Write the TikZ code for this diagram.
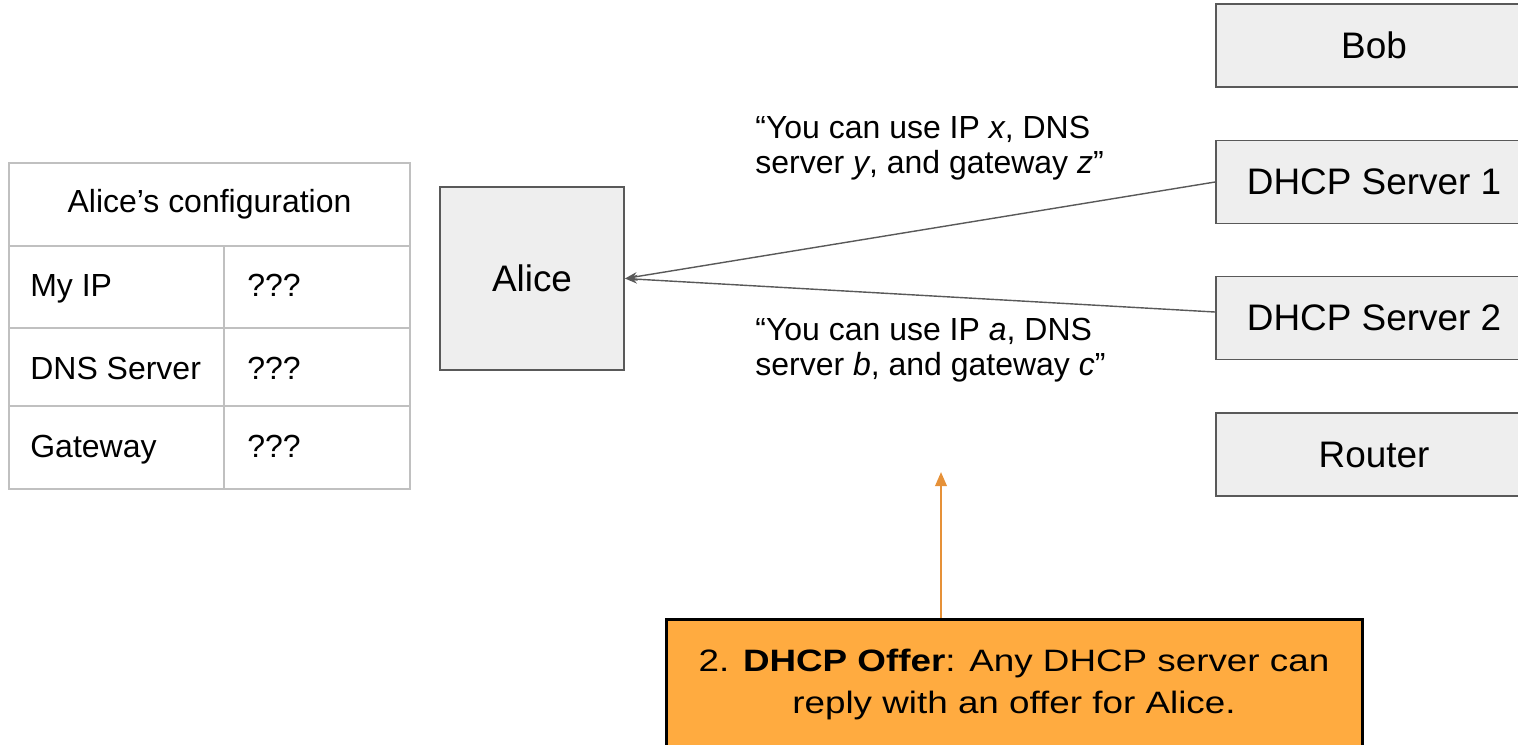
\documentclass[tikz,border=0pt]{standalone}
\usepackage{fontspec}
\setmainfont{Liberation Sans}
\newfontfamily\offerfont[FakeStretch=1.19]{Liberation Sans}
\usetikzlibrary{arrows.meta,positioning}
\definecolor{boxgray}{HTML}{EEEEEE}
\definecolor{linegray}{HTML}{595959}
\definecolor{tablegray}{HTML}{C0C0C0}
\definecolor{offerfill}{HTML}{FFAB40}
\definecolor{offerline}{HTML}{E69138}
\begin{document}
\begin{tikzpicture}[
  host/.style={draw=linegray,fill=boxgray,line width=1.1pt,minimum width=6.32cm,minimum height=1.66cm,font=\fontsize{21}{25}\selectfont},
  cell/.style={inner sep=0pt,font=\fontsize{18.2}{22}\selectfont},
  msg/.style={inner sep=0pt,anchor=west,align=left,font=\fontsize{18.2}{19.9}\selectfont},
  reply/.style={draw=linegray,line width=0.8pt,-{Stealth[length=7pt,width=5pt]}}
]
\useasboundingbox (0,0) rectangle (30.36,-14.88);
\clip (0,0) rectangle (30.36,-14.88);
% configuration table
\draw[tablegray,line width=1.1pt] (0.18,-3.26) rectangle (8.2,-9.78);
\foreach\y in {-4.92,-6.56,-8.12} {
  \draw[tablegray,line width=1.1pt] (0.18,\y) -- (8.2,\y);
}
\draw[tablegray,line width=1.1pt] (4.48,-4.92) -- (4.48,-9.78);
\node[cell] (title) at (4.19,-4.09) {Alice’s configuration};
\foreach\y/\k/\t in {-5.93/ip/My IP,-7.59/dns/DNS Server,-9.15/gw/Gateway} {
  \node[cell,anchor=base west] (\k) at (0.6,\y) {\t};
  \node[cell,anchor=base west] (\k-val) at (4.94,\y) {???};
}
% hosts
\node[host,minimum width=3.68cm,minimum height=3.66cm] (alice) at (10.64,-5.57) {Alice};
\foreach\y/\k/\t in {-0.91/bob/Bob,-3.64/dhcp1/DHCP Server 1,-6.36/dhcp2/DHCP Server 2,-9.09/router/Router} {
  \node[host] (\k) at (27.48,\y) {\t};
}
% offers
\draw[reply] (dhcp1.west) -- (alice.east);
\draw[reply] ([yshift=0.12cm]dhcp2.west) -- (alice.east);
\node[msg] (offer1) at (15.1,-2.96) {“You can use IP \textit{x}, DNS\\server \textit{y}, and gateway \textit{z}”};
\node[msg] (offer2) at (15.1,-7.0) {“You can use IP \textit{a}, DNS\\server \textit{b}, and gateway \textit{c}”};
% step note
\node[draw=black,line width=1.7pt,fill=offerfill,minimum width=13.92cm,minimum height=2.6cm,align=center,font=\offerfont\fontsize{17.6}{23.9}\selectfont] (offer) at (20.28,-13.68) {2. \textbf{DHCP Offer}: Any DHCP server can\\reply with an offer for Alice.};
\coordinate (tip) at (18.82,-9.44);
\draw[offerline,line width=1.3pt,-{Triangle[length=8pt,width=6.5pt]}] (offer.north -| tip) -- (tip);
\end{tikzpicture}
\end{document}
